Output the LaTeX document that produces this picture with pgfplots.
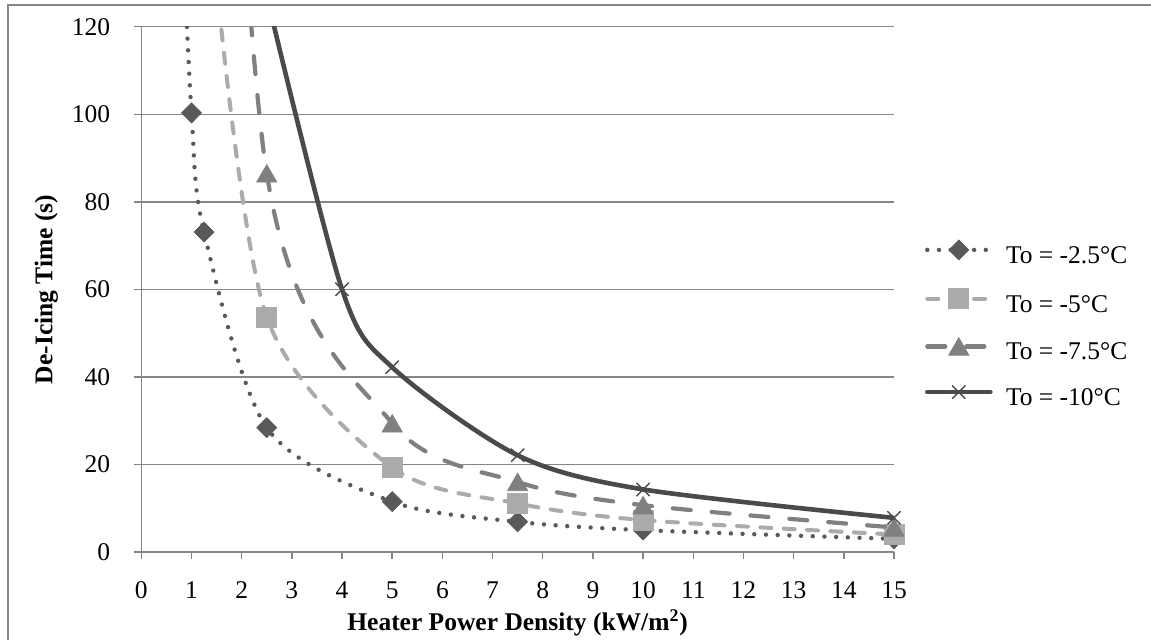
\documentclass[border=0pt]{standalone}
\usepackage{fontspec}
\setmainfont{Liberation Serif}
\usepackage{pgfplots}
\pgfplotsset{compat=1.18}

\definecolor{axgray}{HTML}{868686}
\definecolor{sA}{HTML}{595959}
\definecolor{sB}{HTML}{ABABAB}
\definecolor{sC}{HTML}{808080}
\definecolor{sD}{HTML}{4A4A4A}

\newcommand{\chartfont}{\fontsize{12.75}{15}\selectfont}

% legend sample: short line with the marker in its middle
\pgfplotsset{
  sample/.style={
    legend image code/.code={
      \draw[##1, mark indices={2}] plot coordinates {(0pt,3.6pt) (15.75pt,3.6pt) (31.5pt,3.6pt)};
      \path (0pt,0pt) (38.2pt,0pt);
    }
  }
}

\begin{document}
\begin{tikzpicture}[x=1pt,y=1pt]
\useasboundingbox (0,0) rectangle (575.5,319.5);
% chart frame
\draw[axgray, line width=0.75pt] (4,-2) -- (4,317) -- (577,317);
\begin{axis}[
  at={(70.65pt,43.5pt)}, anchor=south west,
  scale only axis, width=376.35pt, height=262.65pt,
  xmin=0, xmax=15, ymin=0, ymax=120,
  xtick={0,1,...,15}, ytick={0,20,...,120},
  axis x line*=bottom, axis y line*=left,
  axis line style={axgray, line width=0.75pt},
  ymajorgrids, grid style={axgray, line width=0.75pt},
  tick align=outside, major tick length=3.7pt,
  tick style={axgray, line width=0.75pt},
  /pgf/number format/assume math mode=true,
  xticklabel style={font=\chartfont, anchor=base, inner sep=0pt, yshift=-19.35pt},
  yticklabel style={font=\chartfont, anchor=east, inner sep=0pt, xshift=-11.7pt},
  xlabel={Heater Power Density (kW/m\textsuperscript{2})},
  ylabel={De-Icing Time (s)},
  xlabel style={font=\bfseries\chartfont, at={(axis description cs:0.5,0)}, anchor=base, inner sep=0pt, yshift=-39pt},
  ylabel style={font=\bfseries\chartfont, at={(axis description cs:-0.1182,0.5)}, rotate=0, anchor=base, inner sep=0pt},
  clip mode=individual,
  legend cell align=left,
  legend style={at={(1.0412,0.429)}, anchor=west, draw=none, fill=none,
    inner sep=0pt, outer sep=0pt, row sep=8.85pt, font=\chartfont,
    nodes={inner sep=0pt, text height=10pt, text depth=4pt}},
]

% To = -2.5 C
\addplot[sA, smooth, line width=2.2pt, line cap=round, dash pattern=on 0pt off 5.85pt,
  mark=square*, mark size=3.5pt, mark indices={1,2,3,4,5,6,7},
  mark options={solid, rotate=45, line width=0.4pt, fill=sA}, sample]
  coordinates {(0.75,160) (1,100.3) (1.25,73.1) (2.5,28.4) (5,11.5) (7.5,6.9) (10,5.0) (15,3.0)};
\addlegendentry{To = -2.5°C}

% To = -5 C
\addplot[sB, smooth, line width=2pt, line cap=round, dash pattern=on 5.5pt off 6.2pt,
  mark=square*, mark size=5pt, mark indices={1,2,3,4,5},
  mark options={solid, line width=0.4pt, fill=sB}, sample]
  coordinates {(1.5,130) (2.5,53.6) (5,19.3) (7.5,11.1) (10,7.3) (15,4.0)};
\addlegendentry{To = -5°C}

% To = -7.5 C
\addplot[sC, smooth, line width=2.1pt, line cap=round, dash pattern=on 9pt off 10.5pt,
  mark=triangle*, mark size=5.8pt, mark indices={1,2,3,4,5},
  mark options={solid, yshift=-1.45pt, line width=0.4pt, fill=sC}, sample]
  coordinates {(1.25,300) (2.5,86.5) (5,29.4) (7.5,16.0) (10,10.7) (15,5.6)};
\addlegendentry{To = -7.5°C}

% To = -10 C
\addplot[sD, smooth, line width=2.3pt, line cap=round,
  mark=x, mark size=4.5pt, mark indices={1,2,3,4,5},
  mark options={solid, line width=0.7pt}, sample]
  coordinates {(2.5,127) (4,60) (5,42.2) (7.5,22.1) (10,14.3) (15,7.8)};
\addlegendentry{To = -10°C}

\end{axis}
\end{tikzpicture}
\end{document}
